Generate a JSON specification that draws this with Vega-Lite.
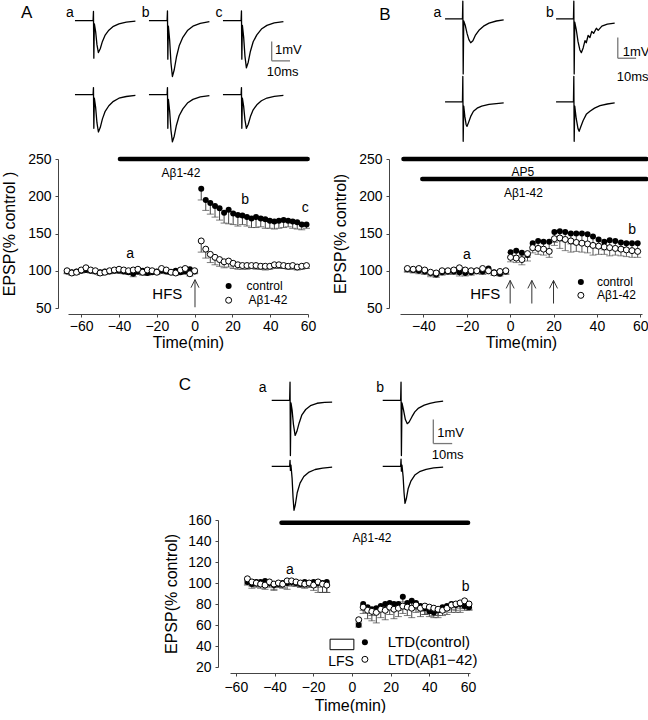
{
"$schema": "https://vega.github.io/schema/vega-lite/v6.json",
"background": "white",
"padding": {"left": 1, "top": 0, "right": 0, "bottom": 0},
"config": {
 "view": {"stroke": null},
 "font": "Liberation Sans",
 "text": {"font": "Liberation Sans", "color": "black"},
 "axis": {"grid": false, "labelFont": "Liberation Sans", "titleFont": "Liberation Sans", "labelFontSize": 14, "titleFontSize": 16, "titleFontWeight": 400, "labelColor": "black", "titleColor": "black", "domainColor": "#444", "tickColor": "#444", "tickSize": 3, "labelPadding": 4, "labelFlush": false, "labelOverlap": false}
},
"datasets": {
 "Atr": [
  {"r":"1","c":"a","k":"tr","t":0,"v":0},{"r":"1","c":"a","k":"tr","t":9.9,"v":0},{"r":"1","c":"a","k":"tr","t":10.1,"v":0.47},{"r":"1","c":"a","k":"tr","t":10.3,"v":-1.95},{"r":"1","c":"a","k":"tr","t":10.6,"v":-0.17},{"r":"1","c":"a","k":"tr","t":11.3,"v":-0.58},{"r":"1","c":"a","k":"tr","t":12,"v":-1.25},{"r":"1","c":"a","k":"tr","t":12.8,"v":-1.66},{"r":"1","c":"a","k":"tr","t":13.8,"v":-1.46},{"r":"1","c":"a","k":"tr","t":15,"v":-1.08},{"r":"1","c":"a","k":"tr","t":16.5,"v":-0.75},{"r":"1","c":"a","k":"tr","t":18.5,"v":-0.5},{"r":"1","c":"a","k":"tr","t":21,"v":-0.3},{"r":"1","c":"a","k":"tr","t":24,"v":-0.17},{"r":"1","c":"a","k":"tr","t":28,"v":-0.08},{"r":"1","c":"a","k":"tr","t":33,"v":-0.03},
  {"r":"1","c":"b","k":"tr","t":0,"v":0},{"r":"1","c":"b","k":"tr","t":9.9,"v":0},{"r":"1","c":"b","k":"tr","t":10.1,"v":0.5},{"r":"1","c":"b","k":"tr","t":10.3,"v":-2.0},{"r":"1","c":"b","k":"tr","t":10.6,"v":-0.29},{"r":"1","c":"b","k":"tr","t":11.3,"v":-1.02},{"r":"1","c":"b","k":"tr","t":12,"v":-2.18},{"r":"1","c":"b","k":"tr","t":12.8,"v":-2.9},{"r":"1","c":"b","k":"tr","t":13.8,"v":-2.55},{"r":"1","c":"b","k":"tr","t":15,"v":-1.89},{"r":"1","c":"b","k":"tr","t":16.5,"v":-1.31},{"r":"1","c":"b","k":"tr","t":18.5,"v":-0.87},{"r":"1","c":"b","k":"tr","t":21,"v":-0.52},{"r":"1","c":"b","k":"tr","t":24,"v":-0.29},{"r":"1","c":"b","k":"tr","t":28,"v":-0.15},{"r":"1","c":"b","k":"tr","t":33,"v":-0.06},
  {"r":"1","c":"c","k":"tr","t":0,"v":0},{"r":"1","c":"c","k":"tr","t":9.9,"v":0},{"r":"1","c":"c","k":"tr","t":10.1,"v":0.5},{"r":"1","c":"c","k":"tr","t":10.3,"v":-2.0},{"r":"1","c":"c","k":"tr","t":10.6,"v":-0.25},{"r":"1","c":"c","k":"tr","t":11.3,"v":-0.86},{"r":"1","c":"c","k":"tr","t":12,"v":-1.84},{"r":"1","c":"c","k":"tr","t":12.8,"v":-2.45},{"r":"1","c":"c","k":"tr","t":13.8,"v":-2.16},{"r":"1","c":"c","k":"tr","t":15,"v":-1.59},{"r":"1","c":"c","k":"tr","t":16.5,"v":-1.1},{"r":"1","c":"c","k":"tr","t":18.5,"v":-0.74},{"r":"1","c":"c","k":"tr","t":21,"v":-0.44},{"r":"1","c":"c","k":"tr","t":24,"v":-0.25},{"r":"1","c":"c","k":"tr","t":28,"v":-0.12},{"r":"1","c":"c","k":"tr","t":33,"v":-0.05},
  {"r":"2","c":"a","k":"tr","t":0,"v":0},{"r":"2","c":"a","k":"tr","t":9.9,"v":0},{"r":"2","c":"a","k":"tr","t":10.1,"v":0.36},{"r":"2","c":"a","k":"tr","t":10.3,"v":-1.75},{"r":"2","c":"a","k":"tr","t":10.6,"v":-0.19},{"r":"2","c":"a","k":"tr","t":11.3,"v":-0.68},{"r":"2","c":"a","k":"tr","t":12,"v":-1.46},{"r":"2","c":"a","k":"tr","t":12.8,"v":-1.94},{"r":"2","c":"a","k":"tr","t":13.8,"v":-1.71},{"r":"2","c":"a","k":"tr","t":15,"v":-1.26},{"r":"2","c":"a","k":"tr","t":16.5,"v":-0.87},{"r":"2","c":"a","k":"tr","t":18.5,"v":-0.58},{"r":"2","c":"a","k":"tr","t":21,"v":-0.35},{"r":"2","c":"a","k":"tr","t":24,"v":-0.19},{"r":"2","c":"a","k":"tr","t":28,"v":-0.1},{"r":"2","c":"a","k":"tr","t":33,"v":-0.04},
  {"r":"2","c":"b","k":"tr","t":0,"v":0},{"r":"2","c":"b","k":"tr","t":9.9,"v":0},{"r":"2","c":"b","k":"tr","t":10.1,"v":0.36},{"r":"2","c":"b","k":"tr","t":10.3,"v":-1.75},{"r":"2","c":"b","k":"tr","t":10.6,"v":-0.25},{"r":"2","c":"b","k":"tr","t":11.3,"v":-0.86},{"r":"2","c":"b","k":"tr","t":12,"v":-1.84},{"r":"2","c":"b","k":"tr","t":12.8,"v":-2.45},{"r":"2","c":"b","k":"tr","t":13.8,"v":-2.16},{"r":"2","c":"b","k":"tr","t":15,"v":-1.59},{"r":"2","c":"b","k":"tr","t":16.5,"v":-1.1},{"r":"2","c":"b","k":"tr","t":18.5,"v":-0.74},{"r":"2","c":"b","k":"tr","t":21,"v":-0.44},{"r":"2","c":"b","k":"tr","t":24,"v":-0.25},{"r":"2","c":"b","k":"tr","t":28,"v":-0.12},{"r":"2","c":"b","k":"tr","t":33,"v":-0.05},
  {"r":"2","c":"c","k":"tr","t":0,"v":0},{"r":"2","c":"c","k":"tr","t":9.9,"v":0},{"r":"2","c":"c","k":"tr","t":10.1,"v":0.36},{"r":"2","c":"c","k":"tr","t":10.3,"v":-1.75},{"r":"2","c":"c","k":"tr","t":10.6,"v":-0.18},{"r":"2","c":"c","k":"tr","t":11.3,"v":-0.61},{"r":"2","c":"c","k":"tr","t":12,"v":-1.31},{"r":"2","c":"c","k":"tr","t":12.8,"v":-1.75},{"r":"2","c":"c","k":"tr","t":13.8,"v":-1.54},{"r":"2","c":"c","k":"tr","t":15,"v":-1.14},{"r":"2","c":"c","k":"tr","t":16.5,"v":-0.79},{"r":"2","c":"c","k":"tr","t":18.5,"v":-0.53},{"r":"2","c":"c","k":"tr","t":21,"v":-0.32},{"r":"2","c":"c","k":"tr","t":24,"v":-0.18},{"r":"2","c":"c","k":"tr","t":28,"v":-0.09},{"r":"2","c":"c","k":"tr","t":33,"v":-0.04},
  {"r":"1","c":"c","k":"sb","t":26.6,"t2":26.6,"v":-1.09,"v2":-2.09},
  {"r":"1","c":"c","k":"sb","t":26.6,"t2":36.6,"v":-2.09,"v2":-2.09},
  {"r":"1","c":"c","k":"u","t":28.4,"v":-1.52,"s":"1mV"},
  {"r":"1","c":"c","k":"u","t":23.9,"v":-2.69,"s":"10ms"},
  {"r":"1","c":"a","k":"l","t":-2.7,"v":0.38,"s":"a"},
  {"r":"1","c":"b","k":"l","t":-1.8,"v":0.38,"s":"b"},
  {"r":"1","c":"c","k":"l","t":-2.2,"v":0.38,"s":"c"},
  {"r":"1","c":"a","k":"L","t":-26.4,"v":0.4,"s":"A"}
 ],
 "Btr": [
  {"r":"1","c":"a","k":"tr","t":0,"v":0},{"r":"1","c":"a","k":"tr","t":9.5,"v":0},{"r":"1","c":"a","k":"tr","t":9.7,"v":0.86},{"r":"1","c":"a","k":"tr","t":9.9,"v":-2.66},{"r":"1","c":"a","k":"tr","t":10.2,"v":-0.1},{"r":"1","c":"a","k":"tr","t":11,"v":-0.3},{"r":"1","c":"a","k":"tr","t":12,"v":-0.7},{"r":"1","c":"a","k":"tr","t":13,"v":-1.0},{"r":"1","c":"a","k":"tr","t":14,"v":-1.15},{"r":"1","c":"a","k":"tr","t":15.2,"v":-1.05},{"r":"1","c":"a","k":"tr","t":16.5,"v":-0.8},{"r":"1","c":"a","k":"tr","t":18.5,"v":-0.55},{"r":"1","c":"a","k":"tr","t":21,"v":-0.35},{"r":"1","c":"a","k":"tr","t":24,"v":-0.2},{"r":"1","c":"a","k":"tr","t":28,"v":-0.1},{"r":"1","c":"a","k":"tr","t":32,"v":-0.05},
  {"r":"1","c":"b","k":"tr","t":0,"v":0},{"r":"1","c":"b","k":"tr","t":9.5,"v":0},{"r":"1","c":"b","k":"tr","t":9.7,"v":0.86},{"r":"1","c":"b","k":"tr","t":9.9,"v":-2.66},{"r":"1","c":"b","k":"tr","t":10.2,"v":-0.15},{"r":"1","c":"b","k":"tr","t":11,"v":-0.5},{"r":"1","c":"b","k":"tr","t":12,"v":-1.1},{"r":"1","c":"b","k":"tr","t":13,"v":-1.5},{"r":"1","c":"b","k":"tr","t":13.8,"v":-1.63},{"r":"1","c":"b","k":"tr","t":14.8,"v":-1.4},{"r":"1","c":"b","k":"tr","t":15.8,"v":-1.05},{"r":"1","c":"b","k":"tr","t":16.5,"v":-1.15},{"r":"1","c":"b","k":"tr","t":17.5,"v":-0.8},{"r":"1","c":"b","k":"tr","t":18.5,"v":-0.9},{"r":"1","c":"b","k":"tr","t":19.5,"v":-0.6},{"r":"1","c":"b","k":"tr","t":20.5,"v":-0.7},{"r":"1","c":"b","k":"tr","t":22,"v":-0.45},{"r":"1","c":"b","k":"tr","t":23,"v":-0.55},{"r":"1","c":"b","k":"tr","t":25,"v":-0.35},{"r":"1","c":"b","k":"tr","t":28,"v":-0.25},{"r":"1","c":"b","k":"tr","t":32,"v":-0.2},
  {"r":"2","c":"a","k":"tr","t":0,"v":0},{"r":"2","c":"a","k":"tr","t":9.5,"v":0},{"r":"2","c":"a","k":"tr","t":9.7,"v":1.23},{"r":"2","c":"a","k":"tr","t":9.9,"v":-1.9},{"r":"2","c":"a","k":"tr","t":10.2,"v":-0.2},{"r":"2","c":"a","k":"tr","t":10.8,"v":-0.7},{"r":"2","c":"a","k":"tr","t":11.5,"v":-1.1},{"r":"2","c":"a","k":"tr","t":12,"v":-1.18},{"r":"2","c":"a","k":"tr","t":12.8,"v":-1.0},{"r":"2","c":"a","k":"tr","t":14,"v":-0.7},{"r":"2","c":"a","k":"tr","t":15.5,"v":-0.45},{"r":"2","c":"a","k":"tr","t":17.5,"v":-0.3},{"r":"2","c":"a","k":"tr","t":20,"v":-0.2},{"r":"2","c":"a","k":"tr","t":24,"v":-0.12},{"r":"2","c":"a","k":"tr","t":28,"v":-0.08},{"r":"2","c":"a","k":"tr","t":32,"v":-0.05},
  {"r":"2","c":"b","k":"tr","t":0,"v":0},{"r":"2","c":"b","k":"tr","t":9.5,"v":0},{"r":"2","c":"b","k":"tr","t":9.7,"v":1.23},{"r":"2","c":"b","k":"tr","t":9.9,"v":-1.9},{"r":"2","c":"b","k":"tr","t":10.2,"v":-0.2},{"r":"2","c":"b","k":"tr","t":11,"v":-0.8},{"r":"2","c":"b","k":"tr","t":12,"v":-1.3},{"r":"2","c":"b","k":"tr","t":12.6,"v":-1.42},{"r":"2","c":"b","k":"tr","t":13.5,"v":-1.2},{"r":"2","c":"b","k":"tr","t":14.8,"v":-0.9},{"r":"2","c":"b","k":"tr","t":16.5,"v":-0.6},{"r":"2","c":"b","k":"tr","t":18.5,"v":-0.45},{"r":"2","c":"b","k":"tr","t":21,"v":-0.3},{"r":"2","c":"b","k":"tr","t":24,"v":-0.18},{"r":"2","c":"b","k":"tr","t":28,"v":-0.1},{"r":"2","c":"b","k":"tr","t":32,"v":-0.05},
  {"r":"1","c":"b","k":"sb","t":33.7,"t2":33.7,"v":-0.9,"v2":-1.9},
  {"r":"1","c":"b","k":"sb","t":33.7,"t2":43.7,"v":-1.9,"v2":-1.9},
  {"r":"1","c":"b","k":"u","t":36.4,"v":-1.58,"s":"1mV"},
  {"r":"1","c":"b","k":"u","t":33.1,"v":-2.79,"s":"10ms"},
  {"r":"1","c":"a","k":"l","t":-4.2,"v":0.28,"s":"a"},
  {"r":"1","c":"b","k":"l","t":-3.3,"v":0.28,"s":"b"},
  {"r":"1","c":"a","k":"L","t":-32.8,"v":0.19,"s":"B"}
 ],
 "Ctr": [
  {"r":"1","c":"a","k":"tr","t":0,"v":0},{"r":"1","c":"a","k":"tr","t":9.5,"v":0},{"r":"1","c":"a","k":"tr","t":9.7,"v":0.76},{"r":"1","c":"a","k":"tr","t":9.9,"v":-2.3},{"r":"1","c":"a","k":"tr","t":10.2,"v":-0.1},{"r":"1","c":"a","k":"tr","t":10.8,"v":-0.4},{"r":"1","c":"a","k":"tr","t":11.5,"v":-1.0},{"r":"1","c":"a","k":"tr","t":12.4,"v":-1.46},{"r":"1","c":"a","k":"tr","t":13.3,"v":-1.3},{"r":"1","c":"a","k":"tr","t":14.5,"v":-0.95},{"r":"1","c":"a","k":"tr","t":16,"v":-0.6},{"r":"1","c":"a","k":"tr","t":18,"v":-0.38},{"r":"1","c":"a","k":"tr","t":20.5,"v":-0.22},{"r":"1","c":"a","k":"tr","t":24,"v":-0.12},{"r":"1","c":"a","k":"tr","t":28,"v":-0.08},{"r":"1","c":"a","k":"tr","t":32,"v":-0.07},
  {"r":"1","c":"b","k":"tr","t":0,"v":0},{"r":"1","c":"b","k":"tr","t":9.5,"v":0},{"r":"1","c":"b","k":"tr","t":9.7,"v":0.76},{"r":"1","c":"b","k":"tr","t":9.9,"v":-2.3},{"r":"1","c":"b","k":"tr","t":10.2,"v":-0.1},{"r":"1","c":"b","k":"tr","t":11,"v":-0.4},{"r":"1","c":"b","k":"tr","t":12,"v":-0.8},{"r":"1","c":"b","k":"tr","t":13,"v":-0.97},{"r":"1","c":"b","k":"tr","t":14,"v":-0.9},{"r":"1","c":"b","k":"tr","t":15.5,"v":-0.68},{"r":"1","c":"b","k":"tr","t":17,"v":-0.48},{"r":"1","c":"b","k":"tr","t":19,"v":-0.32},{"r":"1","c":"b","k":"tr","t":22,"v":-0.2},{"r":"1","c":"b","k":"tr","t":25,"v":-0.12},{"r":"1","c":"b","k":"tr","t":28,"v":-0.07},{"r":"1","c":"b","k":"tr","t":32,"v":-0.03},
  {"r":"2","c":"a","k":"tr","t":0,"v":0},{"r":"2","c":"a","k":"tr","t":9.5,"v":0},{"r":"2","c":"a","k":"tr","t":9.7,"v":0.25},{"r":"2","c":"a","k":"tr","t":9.9,"v":-0.17},{"r":"2","c":"a","k":"tr","t":10.2,"v":0.05},{"r":"2","c":"a","k":"tr","t":10.8,"v":-0.5},{"r":"2","c":"a","k":"tr","t":11.3,"v":-1.3},{"r":"2","c":"a","k":"tr","t":11.8,"v":-1.83},{"r":"2","c":"a","k":"tr","t":12.5,"v":-1.6},{"r":"2","c":"a","k":"tr","t":13.5,"v":-1.1},{"r":"2","c":"a","k":"tr","t":15,"v":-0.7},{"r":"2","c":"a","k":"tr","t":17,"v":-0.42},{"r":"2","c":"a","k":"tr","t":19.5,"v":-0.25},{"r":"2","c":"a","k":"tr","t":23,"v":-0.13},{"r":"2","c":"a","k":"tr","t":27,"v":-0.07},{"r":"2","c":"a","k":"tr","t":32,"v":-0.03},
  {"r":"2","c":"b","k":"tr","t":0,"v":0},{"r":"2","c":"b","k":"tr","t":9.5,"v":0},{"r":"2","c":"b","k":"tr","t":9.7,"v":0.3},{"r":"2","c":"b","k":"tr","t":9.9,"v":-0.2},{"r":"2","c":"b","k":"tr","t":10.2,"v":0.05},{"r":"2","c":"b","k":"tr","t":10.8,"v":-0.42},{"r":"2","c":"b","k":"tr","t":11.3,"v":-1.1},{"r":"2","c":"b","k":"tr","t":11.8,"v":-1.54},{"r":"2","c":"b","k":"tr","t":12.5,"v":-1.35},{"r":"2","c":"b","k":"tr","t":13.5,"v":-0.92},{"r":"2","c":"b","k":"tr","t":15,"v":-0.6},{"r":"2","c":"b","k":"tr","t":17,"v":-0.36},{"r":"2","c":"b","k":"tr","t":19.5,"v":-0.22},{"r":"2","c":"b","k":"tr","t":23,"v":-0.12},{"r":"2","c":"b","k":"tr","t":27,"v":-0.06},{"r":"2","c":"b","k":"tr","t":32,"v":-0.03},
  {"r":"1","c":"b","k":"sb","t":26.8,"t2":26.8,"v":-0.8,"v2":-1.8},
  {"r":"1","c":"b","k":"sb","t":26.8,"t2":36.8,"v":-1.8,"v2":-1.8},
  {"r":"1","c":"b","k":"u","t":28.9,"v":-1.36,"s":"1mV"},
  {"r":"1","c":"b","k":"u","t":26,"v":-2.29,"s":"10ms"},
  {"r":"1","c":"a","k":"l","t":-4.8,"v":0.5,"s":"a"},
  {"r":"1","c":"b","k":"l","t":-1.4,"v":0.5,"s":"b"},
  {"r":"1","c":"a","k":"L","t":-46,"v":0.63,"s":"C"}
 ],
 "Apts": [
  {"g":"c","t":-67.5,"v":99,"lo":96},{"g":"c","t":-65,"v":98,"lo":95},{"g":"c","t":-62.5,"v":99,"lo":96},{"g":"c","t":-60,"v":100,"lo":97},{"g":"c","t":-57.5,"v":101,"lo":98},{"g":"c","t":-55,"v":100,"lo":97},{"g":"c","t":-52.5,"v":99,"lo":96},{"g":"c","t":-50,"v":98,"lo":94},{"g":"c","t":-47.5,"v":99,"lo":96},{"g":"c","t":-45,"v":99,"lo":96},{"g":"c","t":-42.5,"v":100,"lo":97},{"g":"c","t":-40,"v":100,"lo":97},{"g":"c","t":-37.5,"v":99,"lo":96},{"g":"c","t":-35,"v":98,"lo":95},{"g":"c","t":-32.5,"v":96,"lo":92},{"g":"c","t":-30,"v":99,"lo":95},{"g":"c","t":-27.5,"v":100,"lo":96},{"g":"c","t":-25,"v":97,"lo":94},{"g":"c","t":-22.5,"v":98,"lo":95},{"g":"c","t":-20,"v":99,"lo":96},{"g":"c","t":-17.5,"v":100,"lo":97},{"g":"c","t":-15,"v":99,"lo":96},{"g":"c","t":-12.5,"v":98,"lo":95},{"g":"c","t":-10,"v":100,"lo":97},{"g":"c","t":-7.5,"v":98,"lo":95},{"g":"c","t":-5,"v":99,"lo":96},{"g":"c","t":-2.5,"v":102,"lo":99},{"g":"c","t":0,"v":99,"lo":96},
  {"g":"c","t":3.5,"v":210,"lo":195},{"g":"c","t":5.9,"v":195,"lo":181},{"g":"c","t":8.3,"v":191,"lo":176},{"g":"c","t":10.8,"v":187,"lo":172},{"g":"c","t":13.2,"v":184,"lo":168},{"g":"c","t":15.6,"v":178,"lo":164},{"g":"c","t":18,"v":182,"lo":163},{"g":"c","t":20.4,"v":177,"lo":162},{"g":"c","t":22.9,"v":175,"lo":160},{"g":"c","t":25.3,"v":174,"lo":162},{"g":"c","t":27.7,"v":172,"lo":160},{"g":"c","t":30.1,"v":170,"lo":158},{"g":"c","t":32.5,"v":172,"lo":158},{"g":"c","t":35,"v":170,"lo":159},{"g":"c","t":37.4,"v":169,"lo":157},{"g":"c","t":39.8,"v":167,"lo":157},{"g":"c","t":42.2,"v":166,"lo":156},{"g":"c","t":44.6,"v":167,"lo":157},{"g":"c","t":47.1,"v":168,"lo":158},{"g":"c","t":49.5,"v":167,"lo":159},{"g":"c","t":51.9,"v":166,"lo":157},{"g":"c","t":54.3,"v":165,"lo":156},{"g":"c","t":56.7,"v":162,"lo":155},{"g":"c","t":59.2,"v":162,"lo":157},
  {"g":"b","t":-67.5,"v":100,"lo":97},{"g":"b","t":-65,"v":97,"lo":94},{"g":"b","t":-62.5,"v":98,"lo":95},{"g":"b","t":-60,"v":101,"lo":98},{"g":"b","t":-57.5,"v":104,"lo":101},{"g":"b","t":-55,"v":101,"lo":98},{"g":"b","t":-52.5,"v":100,"lo":97},{"g":"b","t":-50,"v":97,"lo":94},{"g":"b","t":-47.5,"v":98,"lo":95},{"g":"b","t":-45,"v":100,"lo":97},{"g":"b","t":-42.5,"v":101,"lo":98},{"g":"b","t":-40,"v":102,"lo":99},{"g":"b","t":-37.5,"v":101,"lo":98},{"g":"b","t":-35,"v":100,"lo":97},{"g":"b","t":-32.5,"v":101,"lo":98},{"g":"b","t":-30,"v":102,"lo":97},{"g":"b","t":-27.5,"v":98,"lo":94},{"g":"b","t":-25,"v":101,"lo":98},{"g":"b","t":-22.5,"v":100,"lo":97},{"g":"b","t":-20,"v":98,"lo":95},{"g":"b","t":-17.5,"v":103,"lo":100},{"g":"b","t":-15,"v":101,"lo":98},{"g":"b","t":-12.5,"v":98,"lo":95},{"g":"b","t":-10,"v":97,"lo":94},{"g":"b","t":-7.5,"v":101,"lo":98},{"g":"b","t":-5,"v":103,"lo":100},{"g":"b","t":-2.5,"v":96,"lo":93},{"g":"b","t":0,"v":100,"lo":97},
  {"g":"b","t":3.5,"v":140,"lo":125},{"g":"b","t":5.9,"v":129,"lo":117},{"g":"b","t":8.3,"v":122,"lo":111},{"g":"b","t":10.8,"v":118,"lo":108},{"g":"b","t":13.2,"v":115,"lo":106},{"g":"b","t":15.6,"v":112,"lo":104},{"g":"b","t":18,"v":113,"lo":105},{"g":"b","t":20.4,"v":110,"lo":103},{"g":"b","t":22.9,"v":108,"lo":102},{"g":"b","t":25.3,"v":107,"lo":102},{"g":"b","t":27.7,"v":107,"lo":102},{"g":"b","t":30.1,"v":107,"lo":103},{"g":"b","t":32.5,"v":107,"lo":102},{"g":"b","t":35,"v":106,"lo":102},{"g":"b","t":37.4,"v":106,"lo":101},{"g":"b","t":39.8,"v":106,"lo":102},{"g":"b","t":42.2,"v":108,"lo":103},{"g":"b","t":44.6,"v":108,"lo":103},{"g":"b","t":47.1,"v":107,"lo":103},{"g":"b","t":49.5,"v":106,"lo":102},{"g":"b","t":51.9,"v":107,"lo":102},{"g":"b","t":54.3,"v":105,"lo":101},{"g":"b","t":56.7,"v":106,"lo":102},{"g":"b","t":59.2,"v":107,"lo":103}
 ],
 "Bpts": [
  {"g":"c","t":-47.4,"v":102,"lo":98},{"g":"c","t":-44.7,"v":101,"lo":97},{"g":"c","t":-42.1,"v":100,"lo":96},{"g":"c","t":-39.4,"v":99,"lo":95},{"g":"c","t":-36.7,"v":97,"lo":92},{"g":"c","t":-34.1,"v":95,"lo":91},{"g":"c","t":-31.4,"v":98,"lo":94},{"g":"c","t":-28.7,"v":99,"lo":95},{"g":"c","t":-26,"v":99,"lo":95},{"g":"c","t":-23.4,"v":98,"lo":93},{"g":"c","t":-20.7,"v":97,"lo":93},{"g":"c","t":-18,"v":98,"lo":94},{"g":"c","t":-15.4,"v":100,"lo":96},{"g":"c","t":-12.7,"v":99,"lo":95},{"g":"c","t":-10,"v":103,"lo":98},{"g":"c","t":-7.4,"v":98,"lo":94},{"g":"c","t":-4.7,"v":96,"lo":93},{"g":"c","t":-2,"v":99,"lo":95},
  {"g":"c","t":0.2,"v":125,"lo":118},{"g":"c","t":2.8,"v":127,"lo":120},{"g":"c","t":5.4,"v":124,"lo":116},{"g":"c","t":8,"v":121,"lo":113},{"g":"c","t":10.4,"v":137,"lo":128},{"g":"c","t":12.9,"v":140,"lo":131},{"g":"c","t":15.4,"v":139,"lo":130},{"g":"c","t":18,"v":139,"lo":128},{"g":"c","t":20.4,"v":152,"lo":138},{"g":"c","t":22.9,"v":153,"lo":140},{"g":"c","t":25.4,"v":152,"lo":139},{"g":"c","t":28,"v":150,"lo":136},{"g":"c","t":30.5,"v":150,"lo":136},{"g":"c","t":33.1,"v":150,"lo":137},{"g":"c","t":35.7,"v":149,"lo":136},{"g":"c","t":38.2,"v":146,"lo":133},{"g":"c","t":40.8,"v":142,"lo":130},{"g":"c","t":43.4,"v":139,"lo":128},{"g":"c","t":45.9,"v":141,"lo":130},{"g":"c","t":48.5,"v":140,"lo":129},{"g":"c","t":51.1,"v":138,"lo":127},{"g":"c","t":53.6,"v":137,"lo":126},{"g":"c","t":56.2,"v":137,"lo":127},{"g":"c","t":58.8,"v":137,"lo":126},
  {"g":"b","t":-47.4,"v":103,"lo":99},{"g":"b","t":-44.7,"v":102,"lo":98},{"g":"b","t":-42.1,"v":103,"lo":99},{"g":"b","t":-39.4,"v":101,"lo":97},{"g":"b","t":-36.7,"v":98,"lo":94},{"g":"b","t":-34.1,"v":97,"lo":93},{"g":"b","t":-31.4,"v":100,"lo":96},{"g":"b","t":-28.7,"v":100,"lo":96},{"g":"b","t":-26,"v":101,"lo":97},{"g":"b","t":-23.4,"v":104,"lo":100},{"g":"b","t":-20.7,"v":101,"lo":97},{"g":"b","t":-18,"v":100,"lo":96},{"g":"b","t":-15.4,"v":100,"lo":96},{"g":"b","t":-12.7,"v":103,"lo":99},{"g":"b","t":-10,"v":100,"lo":96},{"g":"b","t":-7.4,"v":97,"lo":94},{"g":"b","t":-4.7,"v":99,"lo":95},{"g":"b","t":-2,"v":100,"lo":96},
  {"g":"b","t":0.2,"v":118,"lo":112},{"g":"b","t":2.8,"v":117,"lo":111},{"g":"b","t":5.4,"v":115,"lo":108},{"g":"b","t":8,"v":123,"lo":118},{"g":"b","t":10.4,"v":131,"lo":124},{"g":"b","t":12.9,"v":130,"lo":122},{"g":"b","t":15.4,"v":129,"lo":121},{"g":"b","t":18,"v":126,"lo":118},{"g":"b","t":20.4,"v":143,"lo":134},{"g":"b","t":22.9,"v":144,"lo":130},{"g":"b","t":25.4,"v":142,"lo":127},{"g":"b","t":28,"v":140,"lo":125},{"g":"b","t":30.5,"v":138,"lo":126},{"g":"b","t":33.1,"v":137,"lo":125},{"g":"b","t":35.7,"v":136,"lo":124},{"g":"b","t":38.2,"v":134,"lo":121},{"g":"b","t":40.8,"v":133,"lo":122},{"g":"b","t":43.4,"v":132,"lo":122},{"g":"b","t":45.9,"v":131,"lo":120},{"g":"b","t":48.5,"v":130,"lo":121},{"g":"b","t":51.1,"v":129,"lo":120},{"g":"b","t":53.6,"v":128,"lo":119},{"g":"b","t":56.2,"v":127,"lo":118},{"g":"b","t":58.8,"v":126,"lo":118}
 ],
 "Cpts": [
  {"g":"c","t":-54,"v":101,"lo":98},{"g":"c","t":-51.7,"v":99,"lo":95},{"g":"c","t":-49.4,"v":101,"lo":97},{"g":"c","t":-47.2,"v":101,"lo":97},{"g":"c","t":-44.9,"v":102,"lo":98},{"g":"c","t":-42.6,"v":100,"lo":96},{"g":"c","t":-40.3,"v":98,"lo":93},{"g":"c","t":-38,"v":99,"lo":96},{"g":"c","t":-35.8,"v":100,"lo":96},{"g":"c","t":-33.5,"v":100,"lo":94},{"g":"c","t":-31.2,"v":101,"lo":97},{"g":"c","t":-28.9,"v":100,"lo":97},{"g":"c","t":-26.6,"v":99,"lo":96},{"g":"c","t":-24.4,"v":101,"lo":97},{"g":"c","t":-22.1,"v":100,"lo":96},{"g":"c","t":-19.8,"v":101,"lo":97},{"g":"c","t":-17.5,"v":100,"lo":96},{"g":"c","t":-15.2,"v":100,"lo":91},{"g":"c","t":-13,"v":101,"lo":91},
  {"g":"c","t":3.5,"v":60,"lo":58},{"g":"c","t":5.8,"v":80,"lo":74},{"g":"c","t":8.1,"v":77,"lo":72},{"g":"c","t":10.3,"v":75,"lo":69},{"g":"c","t":12.6,"v":76,"lo":71},{"g":"c","t":14.9,"v":78,"lo":73},{"g":"c","t":17.2,"v":80,"lo":74},{"g":"c","t":19.5,"v":81,"lo":76},{"g":"c","t":21.7,"v":80,"lo":75},{"g":"c","t":24,"v":80,"lo":74},{"g":"c","t":26.3,"v":87,"lo":82},{"g":"c","t":28.6,"v":81,"lo":75},{"g":"c","t":30.9,"v":83,"lo":78},{"g":"c","t":33.1,"v":81,"lo":75},{"g":"c","t":35.4,"v":78,"lo":73},{"g":"c","t":37.7,"v":76,"lo":70},{"g":"c","t":40,"v":73,"lo":68},{"g":"c","t":42.3,"v":72,"lo":67},{"g":"c","t":44.5,"v":74,"lo":69},{"g":"c","t":46.8,"v":77,"lo":72},{"g":"c","t":49.1,"v":78,"lo":74},{"g":"c","t":51.4,"v":80,"lo":75},{"g":"c","t":53.7,"v":79,"lo":74},{"g":"c","t":55.9,"v":80,"lo":76},{"g":"c","t":58.2,"v":78,"lo":74},{"g":"c","t":60.5,"v":77,"lo":74},
  {"g":"b","t":-54,"v":104,"lo":99},{"g":"b","t":-51.7,"v":101,"lo":97},{"g":"b","t":-49.4,"v":100,"lo":96},{"g":"b","t":-47.2,"v":99,"lo":95},{"g":"b","t":-44.9,"v":98,"lo":94},{"g":"b","t":-42.6,"v":101,"lo":97},{"g":"b","t":-40.3,"v":99,"lo":94},{"g":"b","t":-38,"v":100,"lo":96},{"g":"b","t":-35.8,"v":99,"lo":95},{"g":"b","t":-33.5,"v":102,"lo":98},{"g":"b","t":-31.2,"v":102,"lo":98},{"g":"b","t":-28.9,"v":101,"lo":97},{"g":"b","t":-26.6,"v":100,"lo":96},{"g":"b","t":-24.4,"v":99,"lo":95},{"g":"b","t":-22.1,"v":100,"lo":96},{"g":"b","t":-19.8,"v":98,"lo":93},{"g":"b","t":-17.5,"v":101,"lo":91},{"g":"b","t":-15.2,"v":99,"lo":91},{"g":"b","t":-13,"v":98,"lo":91},
  {"g":"b","t":3.5,"v":65,"lo":62},{"g":"b","t":5.8,"v":77,"lo":71},{"g":"b","t":8.1,"v":74,"lo":66},{"g":"b","t":10.3,"v":73,"lo":64},{"g":"b","t":12.6,"v":72,"lo":62},{"g":"b","t":14.9,"v":75,"lo":67},{"g":"b","t":17.2,"v":74,"lo":65},{"g":"b","t":19.5,"v":77,"lo":70},{"g":"b","t":21.7,"v":75,"lo":66},{"g":"b","t":24,"v":76,"lo":68},{"g":"b","t":26.3,"v":78,"lo":71},{"g":"b","t":28.6,"v":77,"lo":69},{"g":"b","t":30.9,"v":76,"lo":67},{"g":"b","t":33.1,"v":79,"lo":72},{"g":"b","t":35.4,"v":76,"lo":68},{"g":"b","t":37.7,"v":78,"lo":70},{"g":"b","t":40,"v":77,"lo":71},{"g":"b","t":42.3,"v":76,"lo":69},{"g":"b","t":44.5,"v":75,"lo":67},{"g":"b","t":46.8,"v":74,"lo":69},{"g":"b","t":49.1,"v":76,"lo":70},{"g":"b","t":51.4,"v":79,"lo":72},{"g":"b","t":53.7,"v":80,"lo":72},{"g":"b","t":55.9,"v":81,"lo":72},{"g":"b","t":58.2,"v":83,"lo":76},{"g":"b","t":60.5,"v":80,"lo":75}
 ]
},
"bounds": "flush",
"spacing": 371,
"vconcat": [
 {
  "bounds": "flush",
  "spacing": 332,
  "hconcat": [
   {
    "bounds": "flush",
    "spacing": 150,
    "vconcat": [
     {
      "data": {"name": "Atr"},
      "bounds": "flush",
      "spacing": {"row": 4, "column": 0},
      "facet": {
       "row": {"field": "r", "type": "nominal", "title": null, "header": {"labels": false}},
       "column": {"field": "c", "type": "nominal", "title": null, "header": {"labels": false}}
      },
      "spec": {
       "width": 74, "height": 70,
       "encoding": {
        "x": {"field": "t", "type": "quantitative", "scale": {"domain": [-3.8, 36.6], "nice": false, "zero": false}, "axis": null},
        "y": {"field": "v", "type": "quantitative", "scale": {"domain": [-3.03, 0.6], "nice": false, "zero": false}, "axis": null}
       },
       "layer": [
        {"transform": [{"filter": "datum.k == 'tr'"}], "mark": {"type": "line", "color": "black", "strokeWidth": 1.3, "strokeJoin": "round"}},
        {"transform": [{"filter": "datum.k == 'sb'"}], "mark": {"type": "rule", "color": "#777", "strokeWidth": 1.3}, "encoding": {"x2": {"field": "t2"}, "y2": {"field": "v2"}}},
        {"transform": [{"filter": "datum.k == 'u'"}], "mark": {"type": "text", "align": "left", "baseline": "middle", "fontSize": 13}, "encoding": {"text": {"field": "s"}}},
        {"transform": [{"filter": "datum.k == 'l'"}], "mark": {"type": "text", "align": "center", "baseline": "middle", "fontSize": 14}, "encoding": {"text": {"field": "s"}}},
        {"transform": [{"filter": "datum.k == 'L'"}], "mark": {"type": "text", "align": "center", "baseline": "middle", "fontSize": 17}, "encoding": {"text": {"field": "s"}}}
       ]
      }
     },
     {
      "width": 240, "height": 149,
      "encoding": {
       "x": {"field": "t", "type": "quantitative", "scale": {"domain": [-67, 60], "nice": false, "zero": false}, "axis": {"values": [-60, -40, -20, 0, 20, 40, 60], "offset": 6, "labelPadding": 2, "title": "Time(min)", "titlePadding": 1, "titleFontWeight": 400}},
       "y": {"field": "v", "type": "quantitative", "scale": {"domain": [50, 250], "nice": false, "zero": false}, "axis": {"values": [50, 100, 150, 200, 250], "offset": 10, "title": "EPSP(% control )", "titlePadding": 10, "titleFontWeight": 400}}
      },
      "layer": [
       {"data": {"values": [{"t": -39.5, "t2": 59.8, "v": 250}]}, "mark": {"type": "rule", "strokeWidth": 4.5, "color": "black", "strokeCap": "round"}, "encoding": {"x2": {"field": "t2"}}},
       {"data": {"name": "Apts"}, "mark": {"type": "rule", "color": "#444", "strokeWidth": 1}, "encoding": {"y2": {"field": "lo"}}},
       {"data": {"name": "Apts"}, "mark": {"type": "tick", "orient": "horizontal", "size": 7, "thickness": 1, "color": "#444"}, "encoding": {"y": {"field": "lo", "type": "quantitative", "scale": {"domain": [50, 250], "nice": false, "zero": false}, "title": "EPSP(% control )"}}},
       {"data": {"name": "Apts"}, "transform": [{"filter": "datum.g == 'c'"}], "mark": {"type": "point", "shape": "circle", "filled": true, "color": "black", "size": 36, "opacity": 1}},
       {"data": {"name": "Apts"}, "transform": [{"filter": "datum.g == 'b'"}], "mark": {"type": "point", "shape": "circle", "filled": true, "fill": "white", "stroke": "black", "strokeWidth": 1, "size": 36, "opacity": 1}},
       {"data": {"values": [{"t": 18, "v": 79.6}]}, "mark": {"type": "point", "shape": "circle", "filled": true, "color": "black", "size": 36, "opacity": 1}},
       {"data": {"values": [{"t": 18, "v": 60.4}]}, "mark": {"type": "point", "shape": "circle", "filled": true, "fill": "white", "stroke": "black", "strokeWidth": 1, "size": 36, "opacity": 1}},
       {"data": {"values": [{"t": 27.5, "v": 79.6, "s": "control"}, {"t": 28.5, "v": 60.4, "s": "Aβ1-42"}]}, "mark": {"type": "text", "align": "left", "baseline": "middle", "fontSize": 12}, "encoding": {"text": {"field": "s"}}},
       {"data": {"values": [{"t": -7.2, "v": 231, "s": "Aβ1-42"}]}, "mark": {"type": "text", "align": "center", "baseline": "middle", "fontSize": 12}, "encoding": {"text": {"field": "s"}}},
       {"data": {"values": [{"t": -34.1, "v": 123, "s": "a"}, {"t": 26.8, "v": 195, "s": "b"}, {"t": 58.6, "v": 184, "s": "c"}]}, "mark": {"type": "text", "align": "center", "baseline": "middle", "fontSize": 14}, "encoding": {"text": {"field": "s"}}},
       {"data": {"values": [{"t": -6.5, "v": 69, "s": "HFS"}]}, "mark": {"type": "text", "align": "right", "baseline": "middle", "fontSize": 15}, "encoding": {"text": {"field": "s"}}},
       {"data": {"values": [{"t": 0.2, "v": 88, "lo": 51}]}, "mark": {"type": "rule", "color": "#333", "strokeWidth": 1}, "encoding": {"y2": {"field": "lo"}}},
       {"data": {"values": [{"t": 0.2, "v": 88}]}, "mark": {"type": "point", "shape": "M-1,2L0,0L1,2", "filled": false, "stroke": "#333", "strokeWidth": 1, "size": 64, "opacity": 1}}
      ]
     }
    ]
   },
   {
    "bounds": "flush",
    "spacing": 150,
    "vconcat": [
     {
      "data": {"name": "Btr"},
      "bounds": "flush",
      "spacing": {"row": 17, "column": 0},
      "facet": {
       "row": {"field": "r", "type": "nominal", "title": null, "header": {"labels": false}},
       "column": {"field": "c", "type": "nominal", "title": null, "header": {"labels": false}}
      },
      "spec": {
       "width": 111, "height": 66,
       "encoding": {
        "x": {"field": "t", "type": "quantitative", "scale": {"domain": [-24.6, 36.0], "nice": false, "zero": false}, "axis": null},
        "y": {"field": "v", "type": "quantitative", "scale": {"domain": [-2.71, 0.48], "nice": false, "zero": false}, "axis": null}
       },
       "layer": [
        {"transform": [{"filter": "datum.k == 'tr'"}], "mark": {"type": "line", "color": "black", "strokeWidth": 1.3, "strokeJoin": "round"}},
        {"transform": [{"filter": "datum.k == 'sb'"}], "mark": {"type": "rule", "color": "#777", "strokeWidth": 1.3}, "encoding": {"x2": {"field": "t2"}, "y2": {"field": "v2"}}},
        {"transform": [{"filter": "datum.k == 'u'"}], "mark": {"type": "text", "align": "left", "baseline": "middle", "fontSize": 13}, "encoding": {"text": {"field": "s"}}},
        {"transform": [{"filter": "datum.k == 'l'"}], "mark": {"type": "text", "align": "center", "baseline": "middle", "fontSize": 14}, "encoding": {"text": {"field": "s"}}},
        {"transform": [{"filter": "datum.k == 'L'"}], "mark": {"type": "text", "align": "center", "baseline": "middle", "fontSize": 17}, "encoding": {"text": {"field": "s"}}}
       ]
      }
     },
     {
      "width": 242, "height": 149,
      "encoding": {
       "x": {"field": "t", "type": "quantitative", "scale": {"domain": [-50.8, 60.8], "nice": false, "zero": false}, "axis": {"values": [-40, -20, 0, 20, 40, 60], "offset": 6, "labelPadding": 2, "title": "Time(min)", "titlePadding": 1, "titleFontWeight": 400}},
       "y": {"field": "v", "type": "quantitative", "scale": {"domain": [50, 250], "nice": false, "zero": false}, "axis": {"values": [50, 100, 150, 200, 250], "offset": 11, "title": "EPSP(% control)", "titlePadding": 10, "titleFontWeight": 400}}
      },
      "layer": [
       {"data": {"values": [{"t": -49.2, "t2": 62.8, "v": 250}, {"t": -40.5, "t2": 62.8, "v": 223}]}, "mark": {"type": "rule", "strokeWidth": 4.5, "color": "black", "strokeCap": "round"}, "encoding": {"x2": {"field": "t2"}}},
       {"data": {"name": "Bpts"}, "mark": {"type": "rule", "color": "#555", "strokeWidth": 1}, "encoding": {"y2": {"field": "lo"}}},
       {"data": {"name": "Bpts"}, "mark": {"type": "tick", "orient": "horizontal", "size": 7, "thickness": 1, "color": "#555"}, "encoding": {"y": {"field": "lo", "type": "quantitative", "scale": {"domain": [50, 250], "nice": false, "zero": false}, "title": "EPSP(% control)"}}},
       {"data": {"name": "Bpts"}, "transform": [{"filter": "datum.g == 'c'"}], "mark": {"type": "point", "shape": "circle", "filled": true, "color": "black", "size": 36, "opacity": 1}},
       {"data": {"name": "Bpts"}, "transform": [{"filter": "datum.g == 'b'"}], "mark": {"type": "point", "shape": "circle", "filled": true, "fill": "white", "stroke": "black", "strokeWidth": 1, "size": 36, "opacity": 1}},
       {"data": {"values": [{"t": 32.6, "v": 85}]}, "mark": {"type": "point", "shape": "circle", "filled": true, "color": "black", "size": 36, "opacity": 1}},
       {"data": {"values": [{"t": 32.6, "v": 67}]}, "mark": {"type": "point", "shape": "circle", "filled": true, "fill": "white", "stroke": "black", "strokeWidth": 1, "size": 36, "opacity": 1}},
       {"data": {"values": [{"t": 40, "v": 85, "s": "control"}, {"t": 40, "v": 67, "s": "Aβ1-42"}]}, "mark": {"type": "text", "align": "left", "baseline": "middle", "fontSize": 12}, "encoding": {"text": {"field": "s"}}},
       {"data": {"values": [{"t": 5.9, "v": 233, "s": "AP5"}, {"t": 6.1, "v": 204, "s": "Aβ1-42"}]}, "mark": {"type": "text", "align": "center", "baseline": "middle", "fontSize": 12}, "encoding": {"text": {"field": "s"}}},
       {"data": {"values": [{"t": -20, "v": 121, "s": "a"}, {"t": 56.2, "v": 155, "s": "b"}]}, "mark": {"type": "text", "align": "center", "baseline": "middle", "fontSize": 14}, "encoding": {"text": {"field": "s"}}},
       {"data": {"values": [{"t": -4.6, "v": 69.4, "s": "HFS"}]}, "mark": {"type": "text", "align": "right", "baseline": "middle", "fontSize": 15}, "encoding": {"text": {"field": "s"}}},
       {"data": {"values": [{"t": 0, "v": 87, "lo": 56}, {"t": 10, "v": 87, "lo": 56}, {"t": 20, "v": 87, "lo": 56}]}, "mark": {"type": "rule", "color": "#333", "strokeWidth": 1}, "encoding": {"y2": {"field": "lo"}}},
       {"data": {"values": [{"t": 0, "v": 87}, {"t": 10, "v": 87}, {"t": 20, "v": 87}]}, "mark": {"type": "point", "shape": "M-1,2L0,0L1,2", "filled": false, "stroke": "#333", "strokeWidth": 1, "size": 64, "opacity": 1}}
      ]
     }
    ]
   }
  ]
 },
 {
  "bounds": "flush",
  "spacing": 10,
  "hconcat": [
   {"width": 152, "height": 10, "data": {"values": [{"z": 0}]}, "mark": {"type": "point", "opacity": 0}, "encoding": {}},
   {
    "bounds": "flush",
    "spacing": 140,
    "vconcat": [
     {
      "data": {"name": "Ctr"},
      "bounds": "flush",
      "spacing": {"row": 1, "column": 0},
      "facet": {
       "row": {"field": "r", "type": "nominal", "title": null, "header": {"labels": false}},
       "column": {"field": "c", "type": "nominal", "title": null, "header": {"labels": false}}
      },
      "spec": {
       "width": 111, "height": 65,
       "encoding": {
        "x": {"field": "t", "type": "quantitative", "scale": {"domain": [-22.1, 36.7], "nice": false, "zero": false}, "axis": null},
        "y": {"field": "v", "type": "quantitative", "scale": {"domain": [-1.86, 0.85], "nice": false, "zero": false}, "axis": null}
       },
       "layer": [
        {"transform": [{"filter": "datum.k == 'tr'"}], "mark": {"type": "line", "color": "black", "strokeWidth": 1.3, "strokeJoin": "round"}},
        {"transform": [{"filter": "datum.k == 'sb'"}], "mark": {"type": "rule", "color": "#777", "strokeWidth": 1.3}, "encoding": {"x2": {"field": "t2"}, "y2": {"field": "v2"}}},
        {"transform": [{"filter": "datum.k == 'u'"}], "mark": {"type": "text", "align": "left", "baseline": "middle", "fontSize": 13}, "encoding": {"text": {"field": "s"}}},
        {"transform": [{"filter": "datum.k == 'l'"}], "mark": {"type": "text", "align": "center", "baseline": "middle", "fontSize": 14}, "encoding": {"text": {"field": "s"}}},
        {"transform": [{"filter": "datum.k == 'L'"}], "mark": {"type": "text", "align": "center", "baseline": "middle", "fontSize": 17}, "encoding": {"text": {"field": "s"}}}
       ]
      }
     },
     {
      "width": 240, "height": 147,
      "encoding": {
       "x": {"field": "t", "type": "quantitative", "scale": {"domain": [-63, 61], "nice": false, "zero": false}, "axis": {"values": [-60, -40, -20, 0, 20, 40, 60], "offset": 6, "title": "Time(min)", "titlePadding": 3, "titleFontWeight": 400}},
       "y": {"field": "v", "type": "quantitative", "scale": {"domain": [20, 160], "nice": false, "zero": false}, "axis": {"values": [20, 40, 60, 80, 100, 120, 140, 160], "offset": 12, "title": "EPSP(% control)", "titlePadding": 8, "titleFontWeight": 400}}
      },
      "layer": [
       {"data": {"values": [{"t": -36.4, "t2": 60, "v": 157.4}]}, "mark": {"type": "rule", "strokeWidth": 4.5, "color": "black", "strokeCap": "round"}, "encoding": {"x2": {"field": "t2"}}},
       {"data": {"name": "Cpts"}, "mark": {"type": "rule", "color": "#444", "strokeWidth": 1}, "encoding": {"y2": {"field": "lo"}}},
       {"data": {"name": "Cpts"}, "mark": {"type": "tick", "orient": "horizontal", "size": 7, "thickness": 1, "color": "#444"}, "encoding": {"y": {"field": "lo", "type": "quantitative", "scale": {"domain": [20, 160], "nice": false, "zero": false}, "title": "EPSP(% control)"}}},
       {"data": {"name": "Cpts"}, "transform": [{"filter": "datum.g == 'c'"}], "mark": {"type": "point", "shape": "circle", "filled": true, "color": "black", "size": 36, "opacity": 1}},
       {"data": {"name": "Cpts"}, "transform": [{"filter": "datum.g == 'b'"}], "mark": {"type": "point", "shape": "circle", "filled": true, "fill": "white", "stroke": "black", "strokeWidth": 1, "size": 36, "opacity": 1}},
       {"data": {"values": [{"t": -11.3, "t2": 1, "v": 46.5, "lo": 36.5}]}, "mark": {"type": "rect", "fill": "white", "stroke": "black", "strokeWidth": 1}, "encoding": {"x2": {"field": "t2"}, "y2": {"field": "lo"}}},
       {"data": {"values": [{"t": 6.7, "v": 43.5}]}, "mark": {"type": "point", "shape": "circle", "filled": true, "color": "black", "size": 36, "opacity": 1}},
       {"data": {"values": [{"t": 6.7, "v": 27.3}]}, "mark": {"type": "point", "shape": "circle", "filled": true, "fill": "white", "stroke": "black", "strokeWidth": 1, "size": 36, "opacity": 1}},
       {"data": {"values": [{"t": 18.5, "v": 43.5, "s": "LTD(control)"}, {"t": 18.5, "v": 27, "s": "LTD(Aβ1−42)"}]}, "mark": {"type": "text", "align": "left", "baseline": "middle", "fontSize": 15}, "encoding": {"text": {"field": "s"}}},
       {"data": {"values": [{"t": -5.6, "v": 25, "s": "LFS"}]}, "mark": {"type": "text", "align": "center", "baseline": "middle", "fontSize": 14}, "encoding": {"text": {"field": "s"}}},
       {"data": {"values": [{"t": 10.4, "v": 142.5, "s": "Aβ1-42"}]}, "mark": {"type": "text", "align": "center", "baseline": "middle", "fontSize": 12}, "encoding": {"text": {"field": "s"}}},
       {"data": {"values": [{"t": -32.1, "v": 112.3, "s": "a"}, {"t": 58.8, "v": 96.5, "s": "b"}]}, "mark": {"type": "text", "align": "center", "baseline": "middle", "fontSize": 14}, "encoding": {"text": {"field": "s"}}}
      ]
     }
    ]
   }
  ]
 }
]
}
